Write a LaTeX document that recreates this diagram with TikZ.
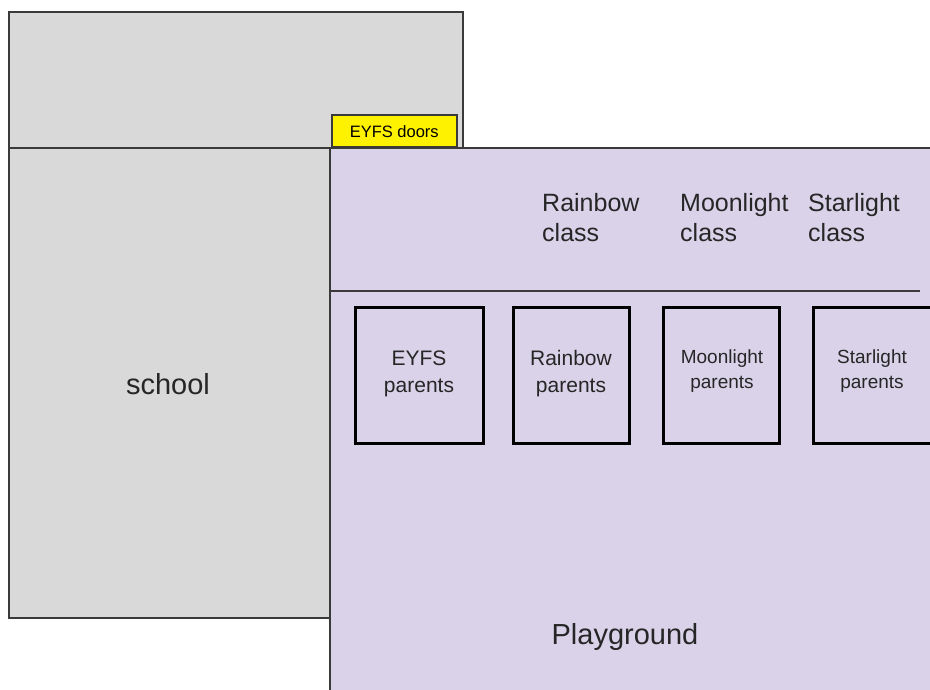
\documentclass[tikz,border=0pt]{standalone}
\usepackage{fontspec}
\setmainfont{Liberation Sans}
\definecolor{bggray}{HTML}{D9D9D9}
\definecolor{lav}{HTML}{D9D2E9}
\definecolor{edge}{HTML}{3A3A3A}
\begin{document}
\begin{tikzpicture}[x=1pt,y=-1pt,
  area/.style={draw=edge,line width=1.5pt},
  pbox/.style={draw=black,line width=3pt,fill=lav},
  lbl/.style={inner sep=0pt,text=black!85},
  classlbl/.style={lbl,align=left,anchor=west,font=\fontsize{25}{30}\selectfont},
  plbl/.style={lbl,align=center,font=\fontsize{21}{27}\selectfont},
  slbl/.style={lbl,align=center,font=\fontsize{19}{24.5}\selectfont}]
\useasboundingbox (0,0) rectangle (930,690);
\clip (0,0) rectangle (930,690);
\fill[white] (0,0) rectangle (930,690);
% buildings
\draw[area,fill=bggray] (9,12) rectangle (463,148);
\draw[area,fill=bggray] (9,148) rectangle (340,618);
\node[lbl,font=\fontsize{29}{34}\selectfont] (school) at (168,384) {school};
\node[draw=edge,line width=1.5pt,fill=yellow,minimum width=125pt,minimum height=32pt,inner sep=0pt,anchor=south west,font=\fontsize{16.5}{20}\selectfont] (doors) at (331,148) {EYFS doors};
% playground
\draw[area,fill=lav] (330,148) rectangle (940,700);
\coordinate (ls) at (330,291);
\coordinate (le) at (920,291);
\draw[edge,line width=1.5pt] (ls) -- (le);
\node[classlbl] (rc) at (542,218) {Rainbow\\class};
\node[classlbl] (mc) at (680,218) {Moonlight\\class};
\node[classlbl] (sc) at (808,218) {Starlight\\class};
\node[pbox,minimum width=128pt,minimum height=136pt,inner sep=0pt] (ep) at (419,375) {};
\node[pbox,minimum width=116pt,minimum height=136pt,inner sep=0pt] (rp) at (571,375) {};
\node[pbox,minimum width=116pt,minimum height=136pt,inner sep=0pt] (mp) at (721,375) {};
\node[pbox,minimum width=130pt,minimum height=136pt,inner sep=0pt] (sp) at (878,375) {};
\node[plbl] (ept) at (419,374) {EYFS\\parents};
\node[plbl] (rpt) at (571,374) {Rainbow\\parents};
\node[slbl] (mpt) at (722,371) {Moonlight\\parents};
\node[slbl] (spt) at (872,371) {Starlight\\parents};
\node[lbl,font=\fontsize{29}{34}\selectfont] (pg) at (625,637) {Playground};
\end{tikzpicture}
\end{document}
